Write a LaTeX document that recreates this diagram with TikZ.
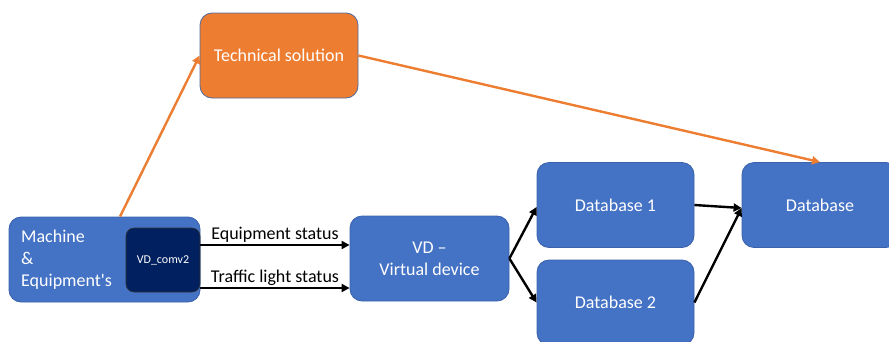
\documentclass[tikz,border=0pt]{standalone}
\usepackage{fontspec}
\setmainfont{Carlito}
\usetikzlibrary{arrows.meta}
\definecolor{boxblue}{HTML}{4472C4}
\definecolor{boxedge}{HTML}{3A62AC}
\definecolor{navy}{HTML}{002060}
\definecolor{techorange}{HTML}{ED7D31}
\tikzset{
  block/.style={rectangle, rounded corners=12pt, fill=boxblue, draw=boxedge, line width=0.8pt,
    text=white, font=\fontsize{18}{22}\selectfont, align=center, inner sep=0pt},
  flow/.style={line width=2.4pt, -{Triangle[length=8pt,width=8pt]}},
  oflow/.style={line width=2.4pt, draw=techorange, -{Triangle[length=8pt,width=8pt]}, techorange},
  lbl/.style={font=\fontsize{18}{20}\selectfont, text=black, inner sep=2pt}
}
\begin{document}
\begin{tikzpicture}[x=1pt,y=-1pt]
\useasboundingbox (0,0) rectangle (889,341);
% boxes
\node[block, minimum width=191pt, minimum height=85pt] (machine) at (104.5,259.5) {};
\node[white, font=\fontsize{18}{22}\selectfont, align=left, anchor=west, inner sep=0pt] (mtext) at (21,260) {Machine\\\&\\Equipment\textquotesingle s};
\node[rectangle, rounded corners=8pt, fill=navy, draw=black!80, line width=0.6pt,
  minimum width=74pt, minimum height=64pt, text=white, font=\fontsize{12}{14}\selectfont] (comv) at (163,260) {VD\_comv2};
\node[block, fill=techorange, draw=boxedge!70!gray, minimum width=158pt, minimum height=85pt] (tech) at (279,55.5) {Technical solution};
\node[block, minimum width=159pt, minimum height=85pt] (vd) at (429.5,258.5) {VD –\\Virtual device};
\node[block, minimum width=157pt, minimum height=85pt] (db1) at (615.5,205) {Database 1};
\node[block, minimum width=157pt, minimum height=85pt] (db2) at (615.5,302.5) {Database 2};
\node[block, minimum width=156pt, minimum height=85pt] (db) at (820,205) {Database};
% orange links through the technical solution
\coordinate (mtop) at ([xshift=15.5pt]machine.north);
\draw[oflow] (mtop) -- (tech.west);
\draw[oflow] (tech.east) -- (db.north);
% status links
\coordinate (eqs) at ([yshift=14.5pt]machine.east);
\coordinate (tls) at ([yshift=-28.5pt]machine.east);
\draw[flow] (eqs) -- node[lbl, above, yshift=-1pt] (eqlabel) {Equipment status} (eqs -| vd.west);
\draw[flow] (tls) -- node[lbl, above, yshift=-1pt] (tllabel) {Traffic light status} (tls -| vd.west);
% database links
\draw[flow] (vd.east) -- ([yshift=-2pt]db1.west);
\draw[flow] (vd.east) -- (db2.west);
\draw[flow] (db1.east) -- ([yshift=-3pt]db.west);
\draw[flow] (db2.east) -- ([yshift=-3pt]db.west);
\end{tikzpicture}
\end{document}
